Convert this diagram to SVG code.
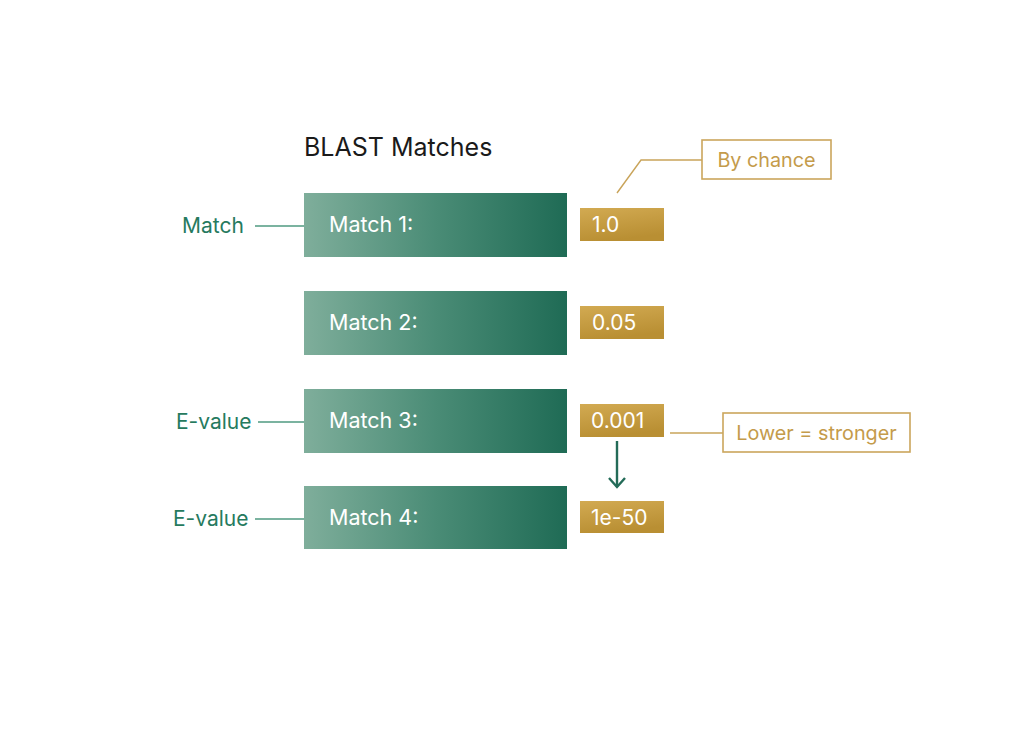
<svg xmlns="http://www.w3.org/2000/svg" width="1024" height="747" viewBox="0 0 1024 747">
<defs>
<linearGradient id="gg" x1="0" y1="0" x2="1" y2="0">
<stop offset="0" stop-color="#7fae9b"/>
<stop offset="0.5" stop-color="#4a8c76"/>
<stop offset="1" stop-color="#1f6b55"/>
</linearGradient>
<linearGradient id="og" x1="0" y1="0" x2="0.3" y2="1">
<stop offset="0" stop-color="#d2aa52"/>
<stop offset="1" stop-color="#b98f33"/>
</linearGradient>
</defs>
<style>
.t{font-family:Inter,"Liberation Sans",sans-serif}
.mb{fill:url(#gg)}
.ml{fill:#ffffff;font-size:21.5px}
.vb{fill:url(#og)}
.vl{fill:#ffffff;font-size:21px}
.lab{fill:#267a5e;font-size:21px}
.gl{stroke:#4f9a80;stroke-width:1.4;fill:none}
.ol{stroke:#c9a45a;stroke-width:1.4;fill:none}
.ob{fill:#ffffff;stroke:#cba65c;stroke-width:1.6}
.ot{fill:#c49b4b;font-size:19.8px}
.ar{stroke:#236b58;stroke-width:2.4;fill:none}
</style>
<rect width="1024" height="747" fill="#ffffff"/>
<text class="t" x="304" y="156" font-size="25" fill="#1a1a1a">BLAST Matches</text>

<g id="connectors">
<line class="gl" x1="255" y1="226" x2="304" y2="226"/>
<line class="gl" x1="258" y1="422" x2="304" y2="422"/>
<line class="gl" x1="255" y1="519" x2="304" y2="519"/>
<polyline class="ol" points="617,193 641,160 702,160"/>
<line class="ol" x1="670" y1="433" x2="723" y2="433"/>
<line class="ar" x1="617" y1="441" x2="617" y2="487"/>
<path class="ar" d="M609,478 L617,487 L625,478"/>
</g>

<g id="label-match"><text class="t lab" x="182" y="233">Match</text></g>
<g id="label-evalue-3"><text class="t lab" x="176" y="429">E-value</text></g>
<g id="label-evalue-4"><text class="t lab" x="173" y="526">E-value</text></g>

<g id="match1"><rect class="mb" x="304" y="193" width="263" height="64"/><text class="t ml" x="329" y="232">Match 1:</text></g>
<g id="match2"><rect class="mb" x="304" y="291" width="263" height="64"/><text class="t ml" x="329" y="330">Match 2:</text></g>
<g id="match3"><rect class="mb" x="304" y="389" width="263" height="64"/><text class="t ml" x="329" y="428">Match 3:</text></g>
<g id="match4"><rect class="mb" x="304" y="486" width="263" height="63"/><text class="t ml" x="329" y="525">Match 4:</text></g>

<g id="val1"><rect class="vb" x="580" y="208" width="84" height="33"/><text class="t vl" x="592" y="232">1.0</text></g>
<g id="val2"><rect class="vb" x="580" y="306" width="84" height="33"/><text class="t vl" x="592" y="330">0.05</text></g>
<g id="val3"><rect class="vb" x="580" y="404" width="84" height="33"/><text class="t vl" x="591" y="428">0.001</text></g>
<g id="val4"><rect class="vb" x="580" y="501" width="84" height="32"/><text class="t vl" x="591" y="525">1e-50</text></g>

<g id="note-chance"><rect class="ob" x="702" y="140" width="129" height="39"/><text class="t ot" x="766.5" y="167" text-anchor="middle">By chance</text></g>
<g id="note-lower"><rect class="ob" x="723" y="413" width="187" height="39"/><text class="t ot" x="816.5" y="440" text-anchor="middle">Lower = stronger</text></g>
</svg>
